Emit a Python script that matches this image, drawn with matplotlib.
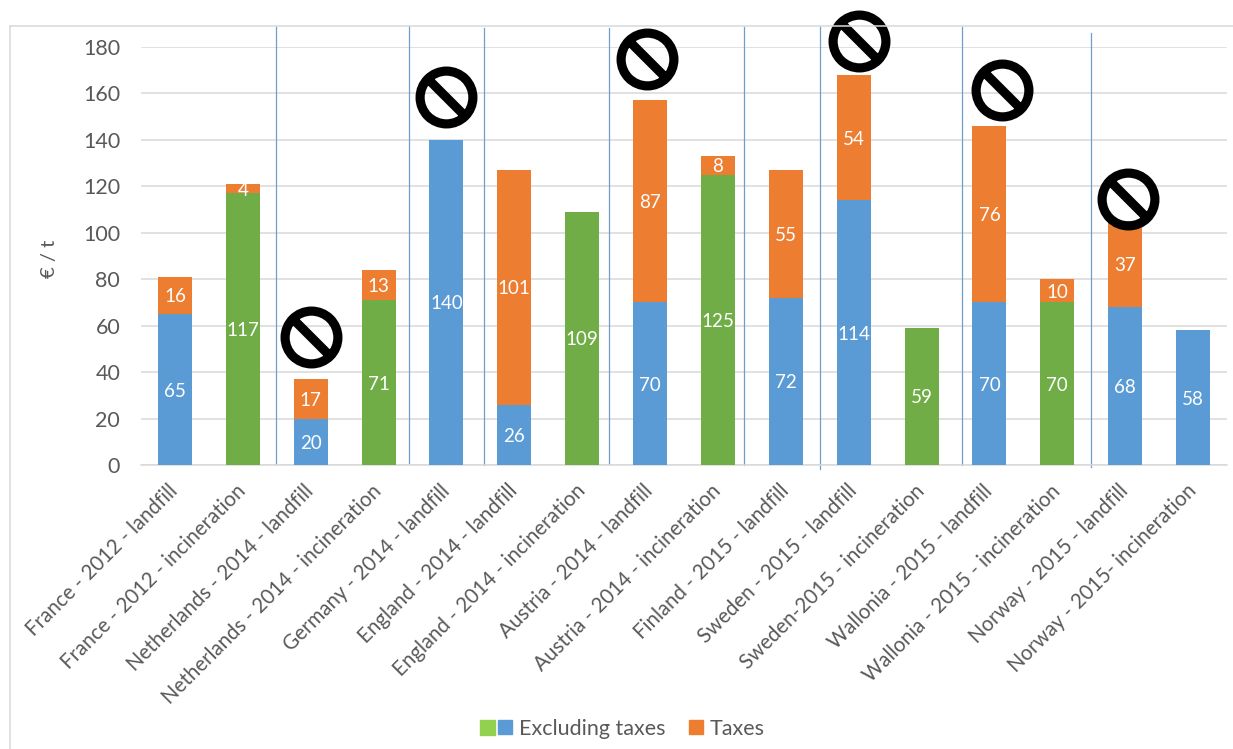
import matplotlib
matplotlib.use("Agg")
import matplotlib.pyplot as plt
from matplotlib.path import Path
from matplotlib.lines import Line2D
from matplotlib.legend_handler import HandlerTuple
from matplotlib.markers import MarkerStyle
from matplotlib.transforms import offset_copy

plt.rcParams['font.family'] = ['Lato', 'DejaVu Sans']

categories = ["France - 2012 - landfill", "France - 2012 - incineration",
              "Netherlands - 2014 - landfill", "Netherlands - 2014 - incineration",
              "Germany - 2014 - landfill", "England - 2014 - landfill",
              "England - 2014 - incineration", "Austria - 2014 - landfill",
              "Austria - 2014 - incineration", "Finland - 2015 - landfill",
              "Sweden - 2015 - landfill", "Sweden-2015 - incineration",
              "Wallonia - 2015 - landfill", "Wallonia - 2015 - incineration",
              "Norway - 2015 - landfill", "Norway - 2015- incineration"]
excluding = [65, 117, 20, 71, 140, 26, 109, 70, 125, 72, 114, 59, 70, 70, 68, 58]
taxes = [16, 4, 17, 13, 0, 101, 0, 87, 8, 55, 54, 0, 76, 10, 37, 0]
green_bars = [1, 3, 6, 8, 11, 13]
# index of the bars carrying a prohibition sign, and its pixel offset from the bar top
sign_bars = [2, 4, 7, 10, 12, 14]
sign_dx = [0, 0, -3, 5, 13, 3]
sign_dy = [42, 43, 41, 34, 36, 22]
# group separators, in category units, with their pixel extents
sep_x = [1.49, 3.45, 4.55, 6.39, 8.39, 9.51, 11.60, 13.49]
sep_top = [27, 26, 28, 28, 27, 27, 27, 33]
sep_bot = [464, 463, 465, 464, 465, 469, 465, 467]

BLUE, ORANGE, GREEN, LGREEN = "#5B9BD5", "#ED7D31", "#70AD47", "#92D050"
GREY, GRID = "#595959", "#D9D9D9"
W, H = 1233, 749

fig = plt.figure(figsize=(W / 100, H / 100), dpi=100)
ax = fig.add_axes([141 / W, 1 - 465 / H, (1227 - 141) / W, (465 - 47) / H])

colors = [GREEN if i in green_bars else BLUE for i in range(len(categories))]
x = list(range(len(categories)))
ax.bar(x, excluding, width=0.5, color=colors, zorder=3)
ax.bar(x, taxes, width=0.5, bottom=excluding, color=ORANGE, zorder=3)

lab_tr = offset_copy(ax.transData, fig=fig, x=0, y=-1.5, units="dots")
for i, (a, b) in enumerate(zip(excluding, taxes)):
    ax.text(i, a / 2, str(a), color="white", ha="center", va="center", fontsize=13.5, zorder=5, transform=lab_tr)
    if b:
        ax.text(i, a + b / 2, str(b), color="white", ha="center", va="center", fontsize=13.5, zorder=5, transform=lab_tr)

ax.set_xlim(-0.5, len(categories) - 0.5)
ax.set_ylim(0, 180)
ax.set_yticks(range(0, 181, 20))
ax.grid(axis="y", color=GRID, lw=1.1, zorder=0)
ax.set_axisbelow(True)
for s in ax.spines.values():
    s.set_visible(False)
ax.spines["bottom"].set_visible(True)
ax.spines["bottom"].set_color(GRID)
ax.spines["bottom"].set_linewidth(1.1)
ax.tick_params(axis="both", length=0)
ax.tick_params(axis="y", labelsize=15.5, labelcolor=GREY, pad=15)
ax.set_xticks(x)
ax.set_xticklabels(categories, rotation=45, ha="right", va="top", rotation_mode="anchor",
                   fontsize=14.8, color=GREY)
for lab in ax.get_xticklabels():
    lab.set_transform(offset_copy(lab.get_transform(), fig=fig, x=-7, y=-11, units="dots"))
fig.text(50 / W, 1 - 259 / H, "€ / t", rotation=90, ha="center", va="center", fontsize=14.5, color=GREY)

# group separators
tr = ax.get_xaxis_transform()
axes_h = 465 - 47
for sx, t, b in zip(sep_x, sep_top, sep_bot):
    ax.plot([sx, sx], [(465 - b) / axes_h, (465 - t) / axes_h], transform=tr,
            color="#6E9FCB", lw=0.9, clip_on=False, zorder=2)

# prohibition signs
sign_path = Path.make_compound_path(Path.unit_circle(),
                                    Path([(-0.707, 0.707), (0.707, -0.707)], [Path.MOVETO, Path.LINETO]))
for i, dx, dy in zip(sign_bars, sign_dx, sign_dy):
    ot = offset_copy(ax.transData, fig=fig, x=dx, y=dy, units="dots")
    ax.plot([i], [excluding[i] + taxes[i]], transform=ot, marker=MarkerStyle(sign_path, fillstyle="none"),
            ms=38, mew=6.6, mec="black", mfc="none", ls="none", clip_on=False, zorder=6)

# outer frame
fig.add_artist(Line2D([10 / W, 10 / W], [0, 1 - 26 / H], color=GRID, lw=1.1))
fig.add_artist(Line2D([10 / W, 1], [1 - 26 / H, 1 - 26 / H], color=GRID, lw=1.1))

# legend
h_g = Line2D([], [], marker="s", ms=10.8, color=LGREEN, ls="none")
h_b = Line2D([], [], marker="s", ms=9.4, color=BLUE, ls="none")
h_o = Line2D([], [], marker="s", ms=9.4, color=ORANGE, ls="none")
h_none = Line2D([], [], ls="none")
fig.legend([(h_g, h_b), (h_none, h_o)], ["Excluding taxes", "Taxes"], ncol=2, frameon=False,
           loc="center", bbox_to_anchor=(621 / W, 1 - 729 / H), fontsize=15.5,
           labelcolor=GREY, handler_map={tuple: HandlerTuple(ndivide=None, pad=0.0)},
           handlelength=1.7, handletextpad=0.2, columnspacing=0.15, borderpad=0)

fig.savefig("out.png", dpi=100)
